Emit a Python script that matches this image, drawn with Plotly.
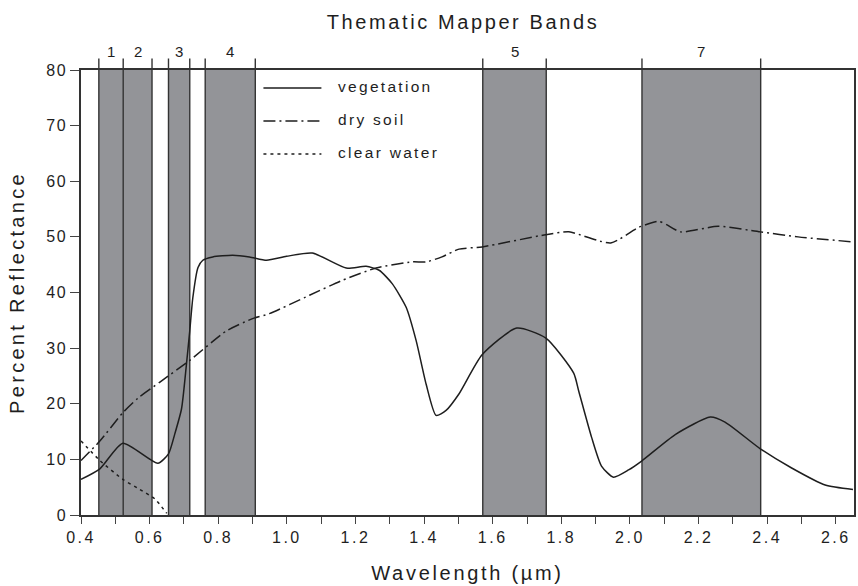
import plotly.graph_objects as go

# ---------------- data ----------------
veg_x = [0.40, 0.455, 0.522, 0.624, 0.655, 0.673, 0.693, 0.707, 0.717, 0.726, 0.741, 0.755,
         0.784, 0.842, 0.891, 0.941, 0.999, 1.074, 1.173, 1.231, 1.269, 1.307, 1.348, 1.377,
         1.406, 1.435, 1.464, 1.502, 1.569, 1.670, 1.755, 1.836, 1.851, 1.888, 1.917, 1.952,
         1.996, 2.034, 2.133, 2.234, 2.277, 2.380, 2.470, 2.569, 2.65]
veg_y = [6.4, 8.3, 12.9, 9.3, 11.0, 14.5, 19.1, 26.9, 33.1, 39.1, 44.5, 45.8,
         46.4, 46.7, 46.4, 45.8, 46.5, 47.1, 44.4, 44.7, 44.0, 41.6, 37.3, 31.3,
         23.5, 17.9, 18.8, 21.8, 28.8, 33.6, 31.8, 25.5, 22.2, 14.0, 8.8, 6.8,
         8.1, 9.7, 14.5, 17.6, 16.7, 11.9, 8.5, 5.4, 4.6]

soil_x = [0.40, 0.455, 0.522, 0.566, 0.630, 0.717, 0.824, 0.900, 0.949, 1.066, 1.162, 1.260,
          1.365, 1.406, 1.452, 1.502, 1.569, 1.755, 1.822, 1.944, 2.025, 2.083, 2.107, 2.147,
          2.257, 2.380, 2.490, 2.65]
soil_y = [9.8, 13.3, 18.4, 21.0, 23.9, 27.8, 33.1, 35.3, 36.2, 39.5, 42.2, 44.4,
          45.5, 45.5, 46.4, 47.8, 48.2, 50.4, 50.9, 48.9, 51.7, 52.8, 52.2, 50.9,
          51.9, 50.9, 50.0, 49.1]

water_x = [0.40, 0.455, 0.522, 0.571, 0.615, 0.65]
water_y = [13.3, 9.8, 6.4, 4.6, 2.9, 0.3]

band_names = ["1", "2", "3", "4", "5", "7"]
band_lo = [0.452, 0.523, 0.655, 0.762, 1.571, 2.035]
band_hi = [0.523, 0.607, 0.717, 0.908, 1.756, 2.381]

x_ticks = [0.4, 0.6, 0.8, 1.0, 1.2, 1.4, 1.6, 1.8, 2.0, 2.2, 2.4, 2.6]
y_ticks = [0, 10, 20, 30, 40, 50, 60, 70, 80]

series_names = ["vegetation", "dry soil", "clear water"]

# ---------------- styles ----------------
FONT = "Liberation Sans, Arial, sans-serif"
INK = "#1e1e1e"
BAND_FILL = "#939498"
EDGE = "#333333"
DASHES = ["solid", "12px,4px,2px,4px", "3px,4px"]


def sp(t, ls=2.5):
    return '<span style="letter-spacing:%spx">%s</span>' % (ls, t)


fig = go.Figure()

for xs, ys, name, dash in zip([veg_x, soil_x, water_x], [veg_y, soil_y, water_y],
                              series_names, DASHES):
    fig.add_trace(go.Scatter(x=xs, y=ys, mode="lines", name=name,
                             line=dict(color=INK, width=1.5, dash=dash,
                                       shape="spline", smoothing=0.6)))

shapes = []
for lo, hi in zip(band_lo, band_hi):
    shapes.append(dict(type="rect", xref="x", yref="paper", x0=lo, x1=hi, y0=0, y1=1,
                       fillcolor=BAND_FILL, line=dict(width=0), layer="below"))
edges = sorted(set(band_lo + band_hi))
for e in edges:
    shapes.append(dict(type="line", xref="x", yref="paper", x0=e, x1=e, y0=0, y1=1.026,
                       line=dict(color=EDGE, width=1.4), layer="below"))

annotations = []
for name, lo, hi in zip(band_names, band_lo, band_hi):
    annotations.append(dict(text=name, x=(lo + hi) / 2, xref="x", y=1.041, yref="paper",
                            yanchor="middle", xanchor="center", showarrow=False,
                            font=dict(family=FONT, size=15, color=INK)))

# legend drawn manually (line sample + label)
leg_y = [0.9596, 0.8854, 0.8112]
for name, dash, yy in zip(series_names, DASHES, leg_y):
    shapes.append(dict(type="line", xref="paper", yref="paper", x0=0.236, x1=0.311,
                       y0=yy, y1=yy, line=dict(color=INK, width=1.5, dash=dash)))
    annotations.append(dict(text=sp(name, 2.3), x=0.330, xref="paper", y=yy + 0.004,
                            yref="paper", xanchor="left", yanchor="middle",
                            showarrow=False, font=dict(family=FONT, size=15.5, color=INK)))

fig.update_layout(
    width=858, height=586,
    margin=dict(l=81, r=2, t=70, b=71),
    plot_bgcolor="white", paper_bgcolor="white",
    showlegend=False,
    font=dict(family=FONT, color=INK),
    title=dict(text=sp("Thematic Mapper Bands", 2.6), x=463 / 858, xref="container",
               xanchor="center", y=1 - 22 / 586, yref="container", yanchor="middle",
               font=dict(family=FONT, size=20, color=INK)),
    shapes=shapes,
    annotations=annotations,
)

fig.update_xaxes(
    range=[0.4, 2.653],
    tickmode="array", tickvals=x_ticks, ticktext=[sp("%.1f" % v, 2.5) for v in x_ticks],
    ticks="outside", ticklen=7, tickwidth=1, tickcolor="#444",
    minor=dict(tick0=0.4, dtick=0.1, ticks="outside", ticklen=7, tickwidth=1,
               tickcolor="#444", showgrid=False),
    tickfont=dict(family=FONT, size=16, color=INK),
    showline=True, linecolor="#333", linewidth=1.5, mirror=True,
    showgrid=False, zeroline=False,
    title=dict(text=sp("Wavelength (µm)", 2.7), standoff=21,
               font=dict(family=FONT, size=20, color=INK)),
)
fig.update_yaxes(
    range=[0, 80],
    tickmode="array", tickvals=y_ticks, ticktext=[sp(str(v), 1.5) for v in y_ticks],
    ticks="outside", ticklen=9, tickwidth=1, tickcolor="#444",
    tickfont=dict(family=FONT, size=16, color=INK),
    showline=True, linecolor="#333", linewidth=1.5, mirror=True,
    showgrid=False, zeroline=False,
    title=dict(text=sp("Percent Reflectance", 3.3), standoff=16,
               font=dict(family=FONT, size=20, color=INK)),
)

fig.write_html("out.html")
